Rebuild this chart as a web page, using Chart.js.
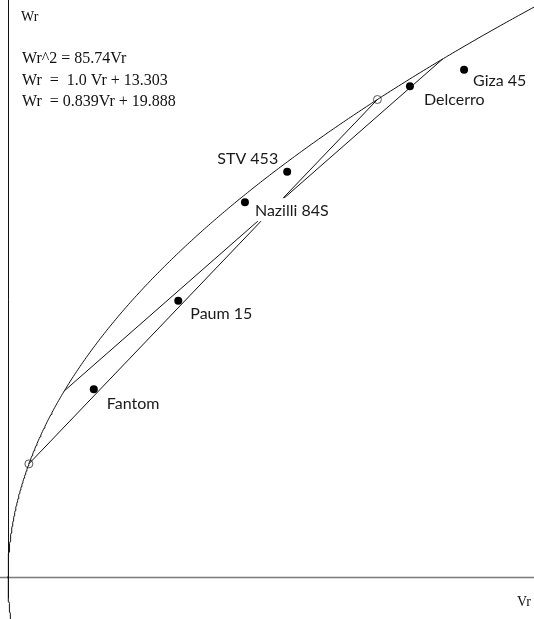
<!DOCTYPE html>
<html>
<head>
<meta charset="utf-8">
<title>Vr-Wr graph</title>
<script src="https://cdn.jsdelivr.net/npm/chart.js@4.4.1/dist/chart.umd.min.js"></script>
<style>
  html, body { margin: 0; padding: 0; background: #ffffff; }
  #wrap { width: 534px; height: 619px; position: relative; }
</style>
</head>
<body>
<div id="wrap"><canvas id="chart" width="534" height="619"></canvas></div>
<script>
// Genotypes and their (Vr, Wr) values
const genotypes = ['Giza 45', 'Delcerro', 'STV 453', 'Nazilli 84S', 'Paum 15', 'Fantom'];
const vrValues  = [69.1, 60.9, 42.3, 35.9, 25.8, 13.0];
const wrValues  = [73.6, 71.2, 58.8, 54.4, 40.1, 27.3];

// Limiting parabola Wr^2 = k * Vr and the two regression lines Wr = a * Vr + b
const parabolaK   = 85.74;
const lineSlopes  = [1.0, 0.839];
const lineInters  = [13.303, 19.888];
const equationText = ['Wr^2 = 85.74Vr', 'Wr  =  1.0 Vr + 13.303', 'Wr  = 0.839Vr + 19.888'];

// Axis ranges (Vr horizontal, Wr vertical)
const vrRange = [-1.212, 79.697];
const wrRange = [-6.014, 83.696];

// Points where a line Wr = a*Vr + b meets the parabola
function meetParabola(a, b) {
  const p = parabolaK / a, q = parabolaK * b / a;
  const d = Math.sqrt(p * p - 4 * q);
  return [(p - d) / 2, (p + d) / 2].map(wr => ({ x: (wr - b) / a, y: wr }));
}

// Parabola traced along Wr (both branches)
const parabolaPts = [];
for (let i = 0; i <= 360; i++) {
  const wr = wrRange[0] + (wrRange[1] - wrRange[0]) * i / 360;
  parabolaPts.push({ x: wr * wr / parabolaK, y: wr });
}
const chordA = meetParabola(lineSlopes[0], lineInters[0]);
const chordB = meetParabola(lineSlopes[1], lineInters[1]);

const labelPlacement = {
  'Giza 45':     { dx: 9,  dy: 11, align: 'left' },
  'Delcerro':    { dx: 14, dy: 14, align: 'left' },
  'STV 453':     { dx: -9, dy: -13, align: 'right' },
  'Nazilli 84S': { dx: 10, dy: 9,  align: 'left', box: true },
  'Paum 15':     { dx: 12, dy: 13, align: 'left' },
  'Fantom':      { dx: 13, dy: 15, align: 'left' }
};

const axesPlugin = {
  id: 'axesCross',
  beforeDatasetsDraw(chart) {
    const { ctx } = chart;
    const xs = chart.scales.x, ys = chart.scales.y;
    const x0 = Math.round(xs.getPixelForValue(0)) + 0.5, y0 = ys.getPixelForValue(0);
    ctx.save();
    ctx.strokeStyle = '#7a7a7a';
    ctx.lineWidth = 1.6;
    ctx.beginPath();
    ctx.moveTo(0, y0); ctx.lineTo(chart.width, y0);
    ctx.stroke();
    ctx.strokeStyle = '#111111';
    ctx.lineWidth = 1;
    ctx.beginPath();
    ctx.moveTo(x0, 0); ctx.lineTo(x0, ys.getPixelForValue(-3));
    ctx.stroke();
    ctx.restore();
  }
};

const textPlugin = {
  id: 'textLayer',
  afterDatasetsDraw(chart) {
    const { ctx } = chart;
    const xs = chart.scales.x, ys = chart.scales.y;
    ctx.save();
    // genotype labels
    ctx.font = '16px Lato, "Open Sans", sans-serif';
    ctx.textBaseline = 'middle';
    genotypes.forEach((name, i) => {
      const pl = labelPlacement[name];
      const px = xs.getPixelForValue(vrValues[i]) + pl.dx;
      const py = ys.getPixelForValue(wrValues[i]) + pl.dy;
      const w = ctx.measureText(name).width;
      if (pl.box) {
        ctx.fillStyle = '#ffffff';
        ctx.fillRect(px - 5, py - 13, w + 12, 23);
      }
      ctx.fillStyle = '#1a1a1a';
      ctx.textAlign = pl.align;
      ctx.fillText(name, px, py);
    });
    // axis titles and equations
    ctx.fillStyle = '#111111';
    ctx.textAlign = 'left';
    ctx.textBaseline = 'alphabetic';
    ctx.font = '14px "Liberation Serif", "Times New Roman", serif';
    ctx.fillText('Wr', 21, 20.5);
    ctx.fillText('Vr', 517, 606);
    ctx.font = '16px "Liberation Serif", "Times New Roman", serif';
    equationText.forEach((t, i) => ctx.fillText(t, 22, 63 + i * 21.5));
    ctx.restore();
  }
};

const lineStyle = { showLine: true, pointRadius: 0, borderColor: '#111111', borderWidth: 1, tension: 0, fill: false };

new Chart(document.getElementById('chart'), {
  type: 'scatter',
  data: {
    datasets: [
      { label: 'parabola', data: parabolaPts, ...lineStyle },
      { label: 'line A', data: chordA, ...lineStyle },
      { label: 'line B', data: chordB, ...lineStyle },
      { label: 'intersections', data: chordA, showLine: false, pointRadius: 4,
        pointBackgroundColor: 'rgba(0,0,0,0)', pointBorderColor: '#555555', pointBorderWidth: 1 },
      { label: 'genotypes', data: vrValues.map((v, i) => ({ x: v, y: wrValues[i] })),
        showLine: false, pointRadius: 4, pointBackgroundColor: '#000000', pointBorderColor: '#000000', pointBorderWidth: 0 }
    ]
  },
  options: {
    responsive: false,
    animation: false,
    devicePixelRatio: 1,
    layout: { padding: 0, autoPadding: false },
    plugins: { legend: { display: false }, tooltip: { enabled: false } },
    scales: {
      x: { type: 'linear', min: vrRange[0], max: vrRange[1], display: false },
      y: { type: 'linear', min: wrRange[0], max: wrRange[1], display: false }
    }
  },
  plugins: [axesPlugin, textPlugin]
});
</script>
</body>
</html>
